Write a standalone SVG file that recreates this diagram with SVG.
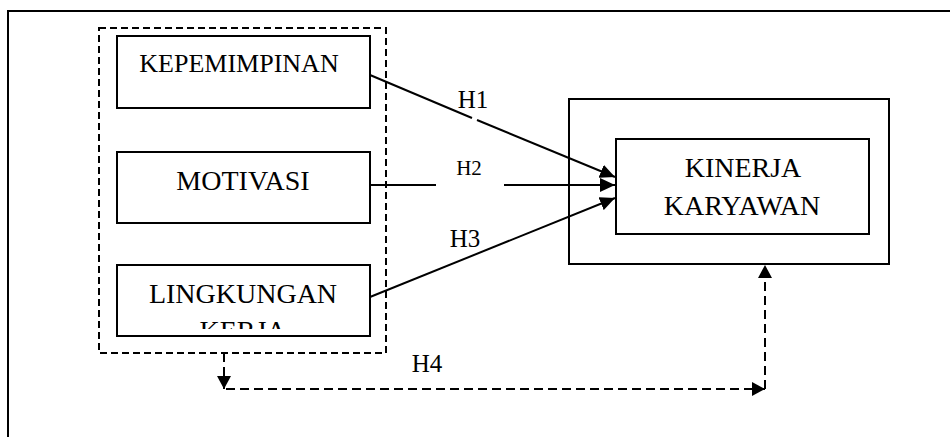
<svg xmlns="http://www.w3.org/2000/svg" width="950" height="437" viewBox="0 0 950 437">
<style>
.box{fill:#fff;stroke:#000;stroke-width:2}
.lbl{font-family:"Liberation Serif","Times New Roman",serif;fill:#000;text-anchor:middle}
.conn{fill:none;stroke:#000;stroke-width:2}
.dash{fill:none;stroke:#000;stroke-width:2;stroke-dasharray:7 4}
.dash2{fill:none;stroke:#000;stroke-width:2;stroke-dasharray:9 5}
</style>
<defs>
<marker id="ah" markerUnits="userSpaceOnUse" markerWidth="16" markerHeight="14" refX="15" refY="7" orient="auto">
<path d="M0,0 L15,7 L0,14 z" fill="#000"/>
</marker>
<marker id="ahs" markerUnits="userSpaceOnUse" markerWidth="14" markerHeight="14" refX="13" refY="7" orient="auto">
<path d="M0,0 L13,7 L0,14 z" fill="#000"/>
</marker>
<clipPath id="clipL"><rect x="118" y="266" width="251" height="63"/></clipPath>
</defs>
<rect width="950" height="437" fill="#fff"/>
<g id="frame">
<path d="M8,437 V11 H950" fill="none" stroke="#000" stroke-width="2"/>
</g>
<g id="group-independen">
<rect x="99" y="28" width="287" height="325" class="dash"/>
</g>
<g id="kepemimpinan">
<rect x="117" y="36" width="253" height="72" class="box"/>
<text x="239" y="72" class="lbl" font-size="26">KEPEMIMPINAN</text>
</g>
<g id="motivasi">
<rect x="117" y="152" width="253" height="71" class="box"/>
<text x="243" y="190" class="lbl" font-size="28">MOTIVASI</text>
</g>
<g id="lingkungan">
<rect x="117" y="265" width="253" height="71" class="box"/>
<text x="243" y="303" class="lbl" font-size="28">LINGKUNGAN</text>
<text x="243" y="340" class="lbl" font-size="28" clip-path="url(#clipL)">KERJA</text>
</g>
<g id="kinerja-outer">
<rect x="569" y="99" width="320" height="165" class="box"/>
</g>
<g id="kinerja">
<rect x="616" y="139" width="253" height="95" class="box"/>
<text x="743" y="177" class="lbl" font-size="28">KINERJA</text>
<text x="742" y="215" class="lbl" font-size="28">KARYAWAN</text>
</g>
<g id="connectors">
<path d="M370,75 L472,118" class="conn"/>
<path d="M477,120 L615,177" class="conn" marker-end="url(#ah)"/>
<path d="M370,185 H436" class="conn"/>
<path d="M504,185 H615" class="conn" marker-end="url(#ah)"/>
<path d="M370,297 L615,198" class="conn" marker-end="url(#ah)"/>
<path d="M224,353 V389" class="dash2" marker-end="url(#ahs)"/>
<path d="M226,389 H765" class="dash2" marker-end="url(#ahs)"/>
<path d="M765,389 V265" class="dash2" marker-end="url(#ahs)"/>
<text x="473" y="108" class="lbl" font-size="25">H1</text>
<text x="469" y="175" class="lbl" font-size="21">H2</text>
<text x="465" y="247" class="lbl" font-size="25">H3</text>
<text x="427" y="372" class="lbl" font-size="25">H4</text>
</g>
</svg>
